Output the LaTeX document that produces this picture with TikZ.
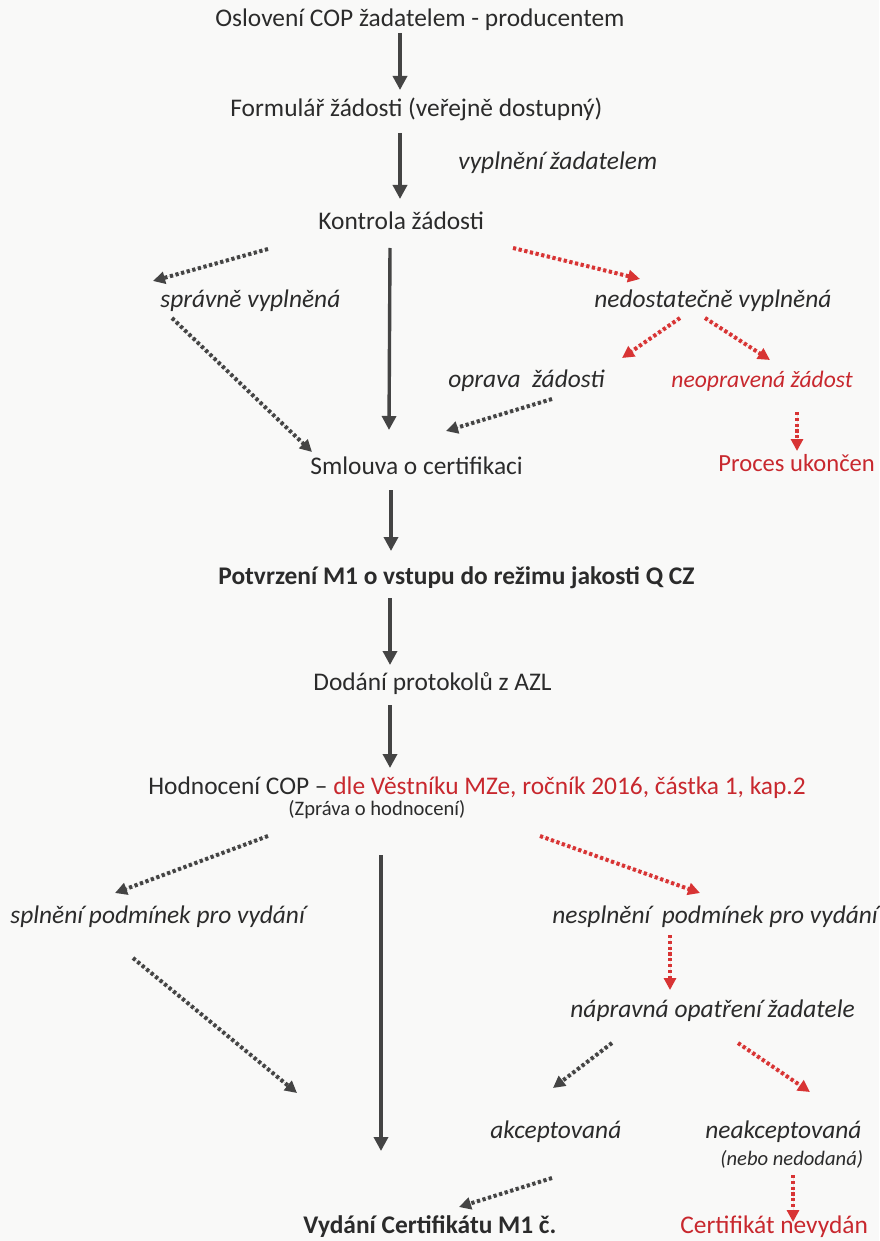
\documentclass[tikz,border=0pt]{standalone}
\usepackage{fontspec}
\setmainfont{Carlito}
\usetikzlibrary{arrows.meta}
\definecolor{ink}{HTML}{2B2B2B}
\definecolor{arr}{HTML}{444444}
\definecolor{rd}{HTML}{C8282E}
\definecolor{rda}{HTML}{D83434}
\definecolor{bg}{HTML}{F9F9F8}
\tikzset{
  txt/.style={anchor=base west, inner sep=0pt, text=ink, font=\fontsize{12.7}{14}\selectfont},
  itx/.style={txt, font=\fontsize{12.7}{14}\selectfont\itshape},
  btx/.style={txt, font=\fontsize{12.7}{14}\selectfont\bfseries},
  stx/.style={txt, font=\fontsize{10.3}{12}\selectfont},
  sitx/.style={txt, font=\fontsize{10.3}{12}\selectfont\itshape},
  solidarr/.style={draw=arr, fill=arr, line width=1.7pt, -{Triangle[width=7pt,length=7pt]}},
  dotarr/.style={draw=arr, line width=2pt, dash pattern=on 1.6pt off 1.3pt, -{Triangle[width=6pt,length=6pt]}},
  reddot/.style={dotarr, draw=rda, fill=rda},
}
\begin{document}
\begin{tikzpicture}[x=0.5pt,y=-0.5pt]
\fill[bg] (0,0) rectangle (879,1241);
\useasboundingbox (0,0) rectangle (879,1241);
% texts
\node[txt] (osl) at (215,27) {Oslovení COP žadatelem - producentem};
\node[txt] (form) at (230,117) {Formulář žádosti (veřejně dostupný)};
\node[itx] (vypl) at (458,170) {vyplnění žadatelem};
\node[txt] (kontr) at (318,229) {Kontrola žádosti};
\node[itx] (sprav) at (160,307) {správně vyplněná};
\node[itx] (nedost) at (594,307) {nedostatečně vyplněná};
\node[itx] (oprava) at (448,387) {oprava\ \ žádosti};
\node[itx, text=rd, font=\fontsize{11.8}{14}\selectfont\itshape] (neopr) at (671,387) {neopravená žádost};
\node[txt, text=rd] (smlouva) at (310,474) {\textcolor{ink}{Smlouva o certifikaci}};
\node[txt, text=rd, font=\fontsize{12.3}{14}\selectfont] (proces) at (718,471) {Proces ukončen};
\node[btx] (potvr) at (218,584) {Potvrzení M1 o vstupu do režimu jakosti Q CZ};
\node[txt] (dodani) at (313,690) {Dodání protokolů z AZL};
\node[txt] (hodn) at (148,794) {Hodnocení COP – \textcolor{rd}{dle Věstníku MZe, ročník 2016, částka 1, kap.2}};
\node[stx] (zprava) at (288,815) {(Zpráva o hodnocení)};
\node[itx] (splneni) at (10,923) {splnění podmínek pro vydání};
\node[itx] (nespl) at (552,923) {nesplnění\ \ podmínek pro vydání};
\node[itx] (naprav) at (570,1017) {nápravná opatření žadatele};
\node[itx] (akcept) at (490,1138) {akceptovaná};
\node[itx] (neakc) at (705,1138) {neakceptovaná};
\node[sitx] (nebo) at (720,1165) {(nebo nedodaná)};
\node[btx] (vydani) at (303,1233) {Vydání Certifikátu M1 č.};
\node[txt, text=rd] (nevyd) at (680,1233) {Certifikát nevydán};
% connector end points
\coordinate (s1a) at (400,33);   \coordinate (s1b) at (400,90);
\coordinate (s2a) at (400,133);  \coordinate (s2b) at (400,199);
\coordinate (s3a) at (390,248);  \coordinate (s3b) at (389,430);
\coordinate (s4a) at (391,490);  \coordinate (s4b) at (391,551);
\coordinate (s5a) at (390,598);  \coordinate (s5b) at (390,665);
\coordinate (s6a) at (390,705);  \coordinate (s6b) at (390,768);
\coordinate (s7a) at (381,855);  \coordinate (s7b) at (381,1151);
\coordinate (da1) at (268,249);  \coordinate (da2) at (153,281);
\coordinate (db1) at (513,248);  \coordinate (db2) at (640,279);
\coordinate (dc1) at (172,318);  \coordinate (dc2) at (312,452);
\coordinate (dd1) at (680,318);  \coordinate (dd2) at (622,358);
\coordinate (de1) at (705,318);  \coordinate (de2) at (770,360);
\coordinate (df1) at (552,399);  \coordinate (df2) at (446,431);
\coordinate (dg1) at (797,412);  \coordinate (dg2) at (797,451);
\coordinate (dh1) at (268,836);  \coordinate (dh2) at (115,893);
\coordinate (di1) at (540,836);  \coordinate (di2) at (700,893);
\coordinate (dj1) at (670,935);  \coordinate (dj2) at (670,990);
\coordinate (dk1) at (133,958);  \coordinate (dk2) at (297,1093);
\coordinate (dl1) at (612,1043); \coordinate (dl2) at (553,1088);
\coordinate (dm1) at (738,1043); \coordinate (dm2) at (810,1092);
\coordinate (dn1) at (552,1178); \coordinate (dn2) at (459,1207);
\coordinate (do1) at (793,1175); \coordinate (do2) at (793,1222);
% solid arrows
\foreach \i in {1,...,7} \draw[solidarr] (s\i a) -- (s\i b);
% black dotted
\foreach \k in {a,c,f,h,k,l,n} \draw[dotarr, fill=arr] (d\k1) -- (d\k2);
% red dotted
\foreach \k in {b,d,e,g,i,j,m,o} \draw[reddot] (d\k1) -- (d\k2);
\end{tikzpicture}
\end{document}
